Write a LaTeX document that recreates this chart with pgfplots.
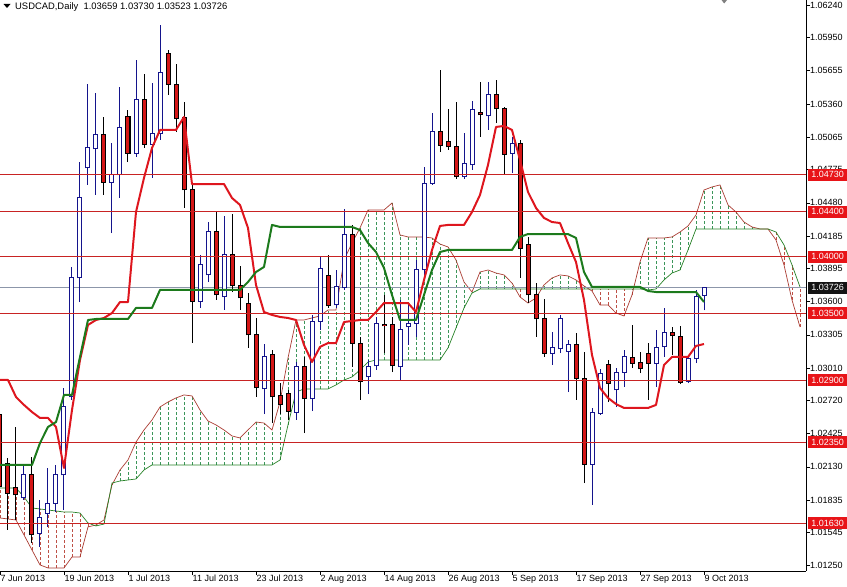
\documentclass[border=0pt]{standalone}
\usepackage{pgfplots}
\pgfplotsset{compat=1.18}
\usepackage{pgfplotstable}
\usepackage{fontspec}
\setmainfont{Liberation Sans}

\definecolor{bull}{RGB}{20,20,140}
\definecolor{bearfill}{RGB}{212,22,22}
\definecolor{tenkan}{RGB}{222,22,30}
\definecolor{kijun}{RGB}{28,122,28}
\definecolor{spana}{RGB}{170,60,50}
\definecolor{spanb}{RGB}{40,130,40}
\definecolor{hatchup}{RGB}{60,150,90}
\definecolor{hatchdn}{RGB}{190,80,70}
\definecolor{level}{RGB}{200,35,35}
\definecolor{bid}{RGB}{140,150,170}
\definecolor{lblred}{RGB}{232,20,24}

\pgfplotsset{
  bar/.style={draw=none, mark=none, forget plot,
    error bars/.cd, y dir=plus, y explicit, error mark=none,
    error bar style={#1}},
}

% daily candles, x = bar number
\pgfplotstableread{
x o h l c
3 1.01853 1.02147 1.01835 1.02058
5 1.01541 1.01835 1.01417 1.01675
6 1.01719 1.02120 1.01595 1.01808
7 1.01808 1.02147 1.01728 1.02058
8 1.02058 1.02832 1.01746 1.02663
9 1.02752 1.03909 1.02725 1.03811
10 1.03811 1.04843 1.03597 1.04523
11 1.04790 1.05537 1.04639 1.04968
12 1.04959 1.05457 1.04550 1.05092
14 1.04665 1.05012 1.04211 1.04728
15 1.04728 1.05511 1.04523 1.05146
17 1.04923 1.05751 1.04888 1.05395
19 1.05003 1.05546 1.04701 1.05101
20 1.05101 1.06063 1.05039 1.05644
25 1.03606 1.04016 1.03544 1.03927
26 1.03838 1.04309 1.03775 1.04229
28 1.03642 1.04363 1.03526 1.04016
33 1.02823 1.03223 1.02600 1.03108
37 1.02618 1.03063 1.02547 1.03019
39 1.02734 1.03482 1.02627 1.03428
40 1.03428 1.04007 1.03348 1.03891
42 1.03571 1.03882 1.03544 1.03731
43 1.03722 1.04425 1.03704 1.04202
46 1.02930 1.03081 1.02778 1.03019
47 1.03028 1.03464 1.02992 1.03410
50 1.03019 1.03615 1.02903 1.03348
51 1.03375 1.03588 1.03215 1.03410
52 1.03410 1.03971 1.03286 1.03882
53 1.03882 1.04799 1.03820 1.04656
54 1.04656 1.05279 1.04639 1.05119
58 1.04710 1.05101 1.04692 1.04834
59 1.04817 1.05386 1.04772 1.05306
61 1.05253 1.05555 1.05128 1.05440
64 1.04923 1.05066 1.04745 1.05012
69 1.03143 1.03330 1.03037 1.03188
70 1.03179 1.03482 1.03143 1.03446
71 1.03161 1.03259 1.02796 1.03215
74 1.02155 1.02654 1.01791 1.02618
75 1.02609 1.03001 1.02592 1.02965
77 1.02814 1.03010 1.02663 1.02974
78 1.02974 1.03170 1.02841 1.03108
82 1.03054 1.03348 1.02841 1.03188
83 1.03197 1.03544 1.03108 1.03330
86 1.02894 1.03126 1.02876 1.03090
87 1.03090 1.03704 1.03054 1.03642
88 1.03659 1.03730 1.03523 1.03726
}\bulls

\pgfplotstableread{
x o h l c
0 1.02592 1.02841 1.01906 1.01951
1 1.02164 1.02209 1.01568 1.01897
2 1.01942 1.02485 1.01657 1.01880
4 1.02058 1.02218 1.01452 1.01524
13 1.05092 1.05244 1.04550 1.04665
16 1.05244 1.05306 1.04843 1.04923
18 1.05395 1.05626 1.04968 1.05003
21 1.05813 1.05840 1.05440 1.05537
22 1.05537 1.05715 1.05110 1.05226
23 1.05235 1.05377 1.04434 1.04594
24 1.04594 1.04639 1.03232 1.03606
27 1.04229 1.04398 1.03615 1.03660
29 1.04016 1.04380 1.03686 1.03740
30 1.03740 1.03918 1.03526 1.03633
31 1.03588 1.03677 1.03188 1.03304
32 1.03304 1.03455 1.02752 1.02832
34 1.03126 1.03170 1.02520 1.02752
35 1.02761 1.02876 1.02600 1.02689
36 1.02787 1.02814 1.02547 1.02627
38 1.03019 1.03108 1.02431 1.02734
41 1.03829 1.04016 1.03544 1.03562
44 1.04202 1.04283 1.03019 1.03232
45 1.03232 1.03286 1.02725 1.02894
48 1.03401 1.03660 1.03143 1.03384
49 1.03393 1.03464 1.02974 1.03028
55 1.05119 1.05662 1.04932 1.04994
56 1.05030 1.05315 1.04950 1.04977
57 1.04977 1.05377 1.04692 1.04710
60 1.05288 1.05555 1.05066 1.05262
62 1.05440 1.05573 1.05190 1.05315
63 1.05315 1.05333 1.04728 1.04914
65 1.05012 1.05039 1.03811 1.04069
66 1.04105 1.04176 1.03588 1.03660
67 1.03660 1.03766 1.03286 1.03446
68 1.03446 1.03624 1.03108 1.03143
72 1.03215 1.03321 1.02725 1.02912
73 1.02912 1.03152 1.01986 1.02155
76 1.03045 1.03081 1.02707 1.02876
79 1.03099 1.03393 1.03010 1.03054
80 1.03063 1.03152 1.02965 1.03001
81 1.03143 1.03232 1.02725 1.03054
84 1.03330 1.03375 1.03126 1.03295
85 1.03286 1.03384 1.02867 1.02885
}\bears

% tenkan-sen (t) and kijun-sen (k)
\pgfplotstableread{
x t k
0 1.02903 1.02147
1 1.02903 1.02147
2 1.02752 1.02147
3 1.02681 1.02147
4 1.02618 1.02147
5 1.02565 1.02342
6 1.02565 1.02485
7 1.02485 1.02529
8 1.02120 1.02770
9 1.02636 1.02770
10 1.03081 1.03108
11 1.03393 1.03437
12 1.03437 1.03446
13 1.03455 1.03446
14 1.03499 1.03446
15 1.03597 1.03446
16 1.03597 1.03446
17 1.04398 1.03544
18 1.04701 1.03544
19 1.04968 1.03544
20 1.05128 1.03704
21 1.05128 1.03704
22 1.05128 1.03704
23 1.05244 1.03704
24 1.04647 1.03704
25 1.04647 1.03704
26 1.04647 1.03704
27 1.04647 1.03704
28 1.04647 1.03704
29 1.04523 1.03704
30 1.04461 1.03704
31 1.04256 1.03775
32 1.03749 1.03864
33 1.03508 1.03909
34 1.03482 1.04283
35 1.03464 1.04265
36 1.03455 1.04265
37 1.03437 1.04265
38 1.03215 1.04265
39 1.03063 1.04265
40 1.03197 1.04265
41 1.03232 1.04265
42 1.03232 1.04265
43 1.03419 1.04265
44 1.03428 1.04265
45 1.03437 1.04238
46 1.03437 1.04122
47 1.03508 1.04042
48 1.03588 1.03900
49 1.03588 1.03660
50 1.03588 1.03437
51 1.03588 1.03437
52 1.03508 1.03437
53 1.03793 1.03660
54 1.04060 1.03882
55 1.04274 1.04042
56 1.04283 1.04060
57 1.04283 1.04060
58 1.04283 1.04060
59 1.04398 1.04060
60 1.04550 1.04060
61 1.04817 1.04060
62 1.05155 1.04060
63 1.05164 1.04060
64 1.05128 1.04060
65 1.04861 1.04176
66 1.04576 1.04202
67 1.04434 1.04202
68 1.04345 1.04202
69 1.04309 1.04202
70 1.04300 1.04202
71 1.04122 1.04202
72 1.03953 1.04167
73 1.03615 1.03864
74 1.03126 1.03731
75 1.02832 1.03731
76 1.02743 1.03731
77 1.02689 1.03731
78 1.02654 1.03731
79 1.02654 1.03731
80 1.02654 1.03731
81 1.02654 1.03695
82 1.02681 1.03686
83 1.03037 1.03686
84 1.03108 1.03686
85 1.03108 1.03686
86 1.03108 1.03686
87 1.03206 1.03686
88 1.03223 1.03597
}\lines

% senkou span A (a) and B (b), shifted 26 bars ahead
\pgfplotstableread{
x a b
0 1.01675 1.01942
1 1.01666 1.01942
2 1.01657 1.01942
3 1.01524 1.01862
4 1.01390 1.01764
5 1.01257 1.01755
6 1.01230 1.01746
7 1.01230 1.01737
8 1.01230 1.01728
9 1.01328 1.01728
10 1.01328 1.01719
11 1.01595 1.01630
12 1.01613 1.01604
13 1.01657 1.01621
14 1.01969 1.01986
15 1.02102 1.02004
16 1.02191 1.02013
17 1.02351 1.02022
18 1.02458 1.02102
19 1.02547 1.02147
20 1.02663 1.02147
21 1.02707 1.02147
22 1.02743 1.02147
23 1.02770 1.02147
24 1.02761 1.02147
25 1.02636 1.02147
26 1.02538 1.02147
27 1.02503 1.02147
28 1.02458 1.02147
29 1.02405 1.02147
30 1.02387 1.02147
31 1.02458 1.02147
32 1.02529 1.02147
33 1.02520 1.02147
34 1.02458 1.02147
35 1.02707 1.02191
36 1.03099 1.02503
37 1.03437 1.02796
38 1.03437 1.02823
39 1.03455 1.02823
40 1.03473 1.02823
41 1.03526 1.02823
42 1.03526 1.02859
43 1.03971 1.02903
44 1.04122 1.02930
45 1.04256 1.02992
46 1.04416 1.03063
47 1.04416 1.03081
48 1.04416 1.03081
49 1.04478 1.03081
50 1.04194 1.03081
51 1.04176 1.03081
52 1.04176 1.03081
53 1.04176 1.03081
54 1.04167 1.03081
55 1.04113 1.03081
56 1.04087 1.03188
57 1.03971 1.03366
58 1.03775 1.03544
59 1.03686 1.03677
60 1.03864 1.03713
61 1.03882 1.03713
62 1.03855 1.03713
63 1.03838 1.03713
64 1.03766 1.03713
65 1.03642 1.03713
66 1.03588 1.03713
67 1.03633 1.03713
68 1.03749 1.03713
69 1.03811 1.03713
70 1.03838 1.03713
71 1.03829 1.03713
72 1.03793 1.03713
73 1.03740 1.03713
74 1.03695 1.03713
75 1.03571 1.03713
76 1.03571 1.03713
77 1.03499 1.03713
78 1.03473 1.03713
79 1.03660 1.03713
80 1.03953 1.03713
81 1.04167 1.03704
82 1.04167 1.03713
83 1.04167 1.03793
84 1.04176 1.03855
85 1.04220 1.03882
86 1.04274 1.04060
87 1.04372 1.04247
88 1.04594 1.04247
89 1.04621 1.04247
90 1.04639 1.04247
91 1.04461 1.04247
92 1.04398 1.04247
93 1.04309 1.04247
94 1.04265 1.04247
95 1.04247 1.04247
96 1.04247 1.04247
97 1.04149 1.04220
98 1.03927 1.04105
99 1.03615 1.03927
100 1.03375 1.03731
}\cloud

\begin{document}
\begin{tikzpicture}
\begin{axis}[
  scale only axis,
  width=806pt, height=571pt,
  xmin=0, xmax=100.75,
  ymin=1.01203, ymax=1.06285,
  axis x line*=bottom, axis y line*=right,
  axis line style={black, line width=0.8pt},
  tick align=outside, major tick length=4pt,
  tick style={black, line width=0.6pt},
  ticklabel style={font=\fontsize{9}{10}\selectfont},
  xtick={0,8,...,88},
  xticklabels={7 Jun 2013,19 Jun 2013,1 Jul 2013,11 Jul 2013,23 Jul 2013,2 Aug 2013,14 Aug 2013,26 Aug 2013,5 Sep 2013,17 Sep 2013,27 Sep 2013,9 Oct 2013},
  xticklabel style={anchor=north west, inner sep=0pt, xshift=0.5pt},
  ytick={1.0125,1.01545,1.01835,1.0213,1.02425,1.0272,1.0301,1.03305,1.036,1.03895,1.04185,1.0448,1.04775,1.05065,1.0536,1.05655,1.0595,1.0624},
  yticklabels={1.01250,1.01545,1.01835,1.02130,1.02425,1.02720,1.03010,1.03305,1.03600,1.03895,1.04185,1.04480,1.04775,1.05065,1.05360,1.05655,1.05950,1.06240},
  yticklabel style={anchor=west, inner sep=0pt},
]
% cloud hatching
\addplot[bar={draw=hatchup, line width=0.55pt, dash pattern=on 3pt off 2pt}]
  table[x=x, y=b, y error expr={max(\thisrow{a}-\thisrow{b},0)}] {\cloud};
\addplot[bar={draw=hatchdn, line width=0.55pt, dash pattern=on 3pt off 2pt}]
  table[x=x, y=a, y error expr={max(\thisrow{b}-\thisrow{a},0)}] {\cloud};
\addplot[spana, line width=0.7pt, forget plot] table[x=x, y=a] {\cloud};
\addplot[spanb, line width=0.7pt, forget plot] table[x=x, y=b] {\cloud};

% bid line
\addplot[bid, line width=0.8pt, forget plot] coordinates {(0,1.03726) (100.75,1.03726)};

% candles: wicks, body outline, body fill
\addplot[bar={draw=bull, line width=1pt}]
  table[x=x, y=l, y error expr={\thisrow{h}-\thisrow{l}}] {\bulls};
\addplot[bar={draw=black, line width=1pt}]
  table[x=x, y=l, y error expr={\thisrow{h}-\thisrow{l}}] {\bears};
\addplot[bar={draw=bull, line width=5pt, shorten <=-0.5pt, shorten >=-0.5pt}]
  table[x=x, y=o, y error expr={\thisrow{c}-\thisrow{o}}] {\bulls};
\addplot[bar={draw=white, line width=3pt, shorten <=0.5pt, shorten >=0.5pt}]
  table[x=x, y=o, y error expr={\thisrow{c}-\thisrow{o}}] {\bulls};
\addplot[bar={draw=black, line width=5pt, shorten <=-0.5pt, shorten >=-0.5pt}]
  table[x=x, y=c, y error expr={\thisrow{o}-\thisrow{c}}] {\bears};
\addplot[bar={draw=bearfill, line width=3pt, shorten <=0.5pt, shorten >=0.5pt}]
  table[x=x, y=c, y error expr={\thisrow{o}-\thisrow{c}}] {\bears};

% levels
\foreach \v in {1.0473,1.0440,1.0400,1.0350,1.0290,1.0235,1.0163} {
  \addplot[level, line width=0.8pt, forget plot] coordinates {(0,\v) (100.75,\v)};
}

% tenkan and kijun
\addplot[tenkan, line width=2pt, line join=round, forget plot] table[x=x, y=t] {\lines};
\addplot[kijun, line width=2pt, line join=round, forget plot] table[x=x, y=k] {\lines};

\coordinate (L1) at (axis cs:100.75,1.0473);
\coordinate (L2) at (axis cs:100.75,1.0440);
\coordinate (L3) at (axis cs:100.75,1.0400);
\coordinate (L4) at (axis cs:100.75,1.0350);
\coordinate (L5) at (axis cs:100.75,1.0290);
\coordinate (L6) at (axis cs:100.75,1.0235);
\coordinate (L7) at (axis cs:100.75,1.0163);
\coordinate (LB) at (axis cs:100.75,1.03726);
\end{axis}

\tikzset{lbl/.style={anchor=west, xshift=2pt, inner sep=0pt, minimum width=39pt, minimum height=12pt, text=white, font=\fontsize{9}{10}\selectfont}}
\node[lbl, fill=lblred] at (L1) {1.04730};
\node[lbl, fill=lblred] at (L2) {1.04400};
\node[lbl, fill=lblred] at (L3) {1.04000};
\node[lbl, fill=lblred] at (L4) {1.03500};
\node[lbl, fill=lblred] at (L5) {1.02900};
\node[lbl, fill=lblred] at (L6) {1.02350};
\node[lbl, fill=lblred] at (L7) {1.01630};
\node[lbl, fill=black!92] at (LB) {1.03726};

\fill (3.5pt,567pt) -- (10.5pt,567pt) -- (7pt,563pt) -- cycle;
\node[anchor=base west, inner sep=0pt, font=\fontsize{9.4}{11}\selectfont] at (15pt,561.5pt)
  {USDCAD,Daily\ \ 1.03659 1.03730 1.03523 1.03726};
\fill[gray] (721.5pt,571pt) -- (727pt,571pt) -- (724.2pt,567.5pt) -- cycle;

\pgfresetboundingbox
\path[use as bounding box] (0,-16pt) rectangle (847pt,571pt);
\end{tikzpicture}
\end{document}
